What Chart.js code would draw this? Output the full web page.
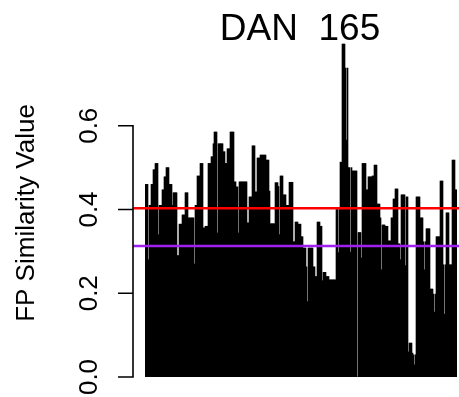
<!DOCTYPE html>
<html>
<head>
<meta charset="utf-8">
<script src="https://cdn.jsdelivr.net/npm/chart.js@4/dist/chart.umd.min.js"></script>
<style>
  html, body { margin: 0; padding: 0; background: #ffffff; }
  #wrap { width: 459px; height: 397px; position: relative; }
</style>
</head>
<body>
<div id="wrap"><canvas id="c" width="459" height="397"></canvas></div>
<script>
// ---- data ----
const chartTitle = "DAN  165";
const yAxisTitle = "FP Similarity Value";
const yTickValues = [0, 0.2, 0.4, 0.6];
const yTickLabels = ["0.0", "0.2", "0.4", "0.6"];
const redLineValue = 0.403;
const purpleLineValue = 0.313;
const fpValues = [
  0.46,0.46,0.46,0.28,0.41,0.41,0.46,0.46,0.495,0.495,0.51,0.51,0.51,0.34,0.41,0.41,0.41,0.447,0.447,0.478,0.478,0.5,0.5,0.5,
  0.46,0.46,0.46,0.41,0.44,0.44,0.44,0.44,0.29,0.29,0.365,0.365,0.365,0.387,0.387,0.387,0.44,0.44,0.44,0.38,0.38,0.38,0.38,0.38,0.38,0.27,0.41,0.41,
  0.48,0.48,0.48,0.51,0.51,0.51,0.356,0.356,0.36,0.36,0.36,0.51,0.51,0.51,0.526,0.526,0.557,0.585,0.585,0.585,0.344,0.557,0.557,0.557,0.557,0.557,0.538,0.538,0.51,0.51,0.545,0.545,0.545,
  0.585,0.585,0.585,0.585,0.466,0.466,0.454,0.454,0.344,0.466,0.466,0.466,0.466,0.466,0.466,0.466,0.466,0.368,0.368,0.43,0.43,0.43,0.552,0.552,0.552,0.442,0.442,0.523,0.523,0.523,
  0.53,0.53,0.53,0.53,0.53,0.53,0.518,0.518,0.518,0.444,0.366,0.366,0.366,0.366,0.366,0.464,0.464,0.464,0.455,0.34,0.48,0.48,0.48,0.435,0.435,0.435,0.41,0.41,0.41,0.465,0.465,0.465,0.465,
  0.323,0.323,0.37,0.37,0.37,0.365,0.365,0.365,0.335,0.335,0.308,0.308,0.308,0.263,0.18,0.308,0.308,0.308,0.308,0.308,0.263,0.263,0.24,0.24,0.37,0.37,0.37,0.36,0.36,0.23,0.25,0.25,0.25,
  0.24,0.24,0.24,0.232,0.232,0.232,0.232,0.232,0.232,0.232,0.4,0.4,0.297,0.4,0.513,0.513,0.795,0.795,0.795,0.738,0.566,0.738,0.5,0.5,0.298,0.5,0.492,0.492,0.492,0.492,0.492,0,
  0.345,0.345,0.345,0.284,0.51,0.51,0.51,0.51,0.447,0.447,0.478,0.478,0.478,0.478,0.48,0.48,0.506,0.506,0.506,0.413,0.413,0.413,0.38,0.256,0.363,0.363,0.363,0.36,0.36,0.36,0.325,0.325,0.325,0.38,0.38,
  0.425,0.425,0.449,0.449,0.449,0.318,0.318,0.28,0.435,0.435,0.435,0.435,0.266,0.43,0.43,0.06,0.081,0.081,0.081,0.057,0.053,0.029,0.053,0.43,0.43,0.43,0.43,0.38,0.38,0.38,0.323,0.256,0.323,
  0.354,0.354,0.354,0.354,0.21,0.21,0.21,0.198,0.155,0.198,0.335,0.335,0.335,0.335,0.468,0.468,0.468,0.268,0.15,0.268,0.392,0.392,0.392,0.268,0.268,0.268,0.518,0.518,0.518,0.447,0.447
];
const categories = fpValues.map((_, i) => String(i + 1));

// ---- R-style decorations drawn through the chart's own scales ----
const FONT = '"Liberation Sans", Arial, Helvetica, sans-serif';
const rDecor = {
  id: 'rDecor',
  afterDatasetsDraw(chart) {
    const ctx = chart.ctx;
    const y = chart.scales.y;
    const area = chart.chartArea;
    const axisX = 133;
    ctx.save();
    // reference lines (abline)
    [[redLineValue, '#FF0000'], [purpleLineValue, '#A020F0']].forEach(([v, col]) => {
      const py = y.getPixelForValue(v);
      ctx.strokeStyle = col;
      ctx.lineWidth = 2.6;
      ctx.beginPath();
      ctx.moveTo(axisX, py);
      ctx.lineTo(chart.width, py);
      ctx.stroke();
    });
    // y axis line + ticks
    ctx.strokeStyle = '#000000';
    ctx.lineWidth = 1.6;
    ctx.lineCap = 'butt';
    const y0 = y.getPixelForValue(yTickValues[0]);
    const y1 = y.getPixelForValue(yTickValues[yTickValues.length - 1]);
    ctx.beginPath();
    ctx.moveTo(axisX, y0 + 0.8);
    ctx.lineTo(axisX, y1 - 0.8);
    yTickValues.forEach(v => {
      const py = y.getPixelForValue(v);
      ctx.moveTo(axisX, py);
      ctx.lineTo(axisX - 15, py);
    });
    ctx.stroke();
    // tick labels, rotated like R's las=0
    ctx.fillStyle = '#000000';
    ctx.font = '26px ' + FONT;
    ctx.textAlign = 'center';
    ctx.textBaseline = 'alphabetic';
    yTickValues.forEach((v, i) => {
      const py = y.getPixelForValue(v);
      ctx.save();
      ctx.translate(97, py);
      ctx.rotate(-Math.PI / 2);
      ctx.fillText(yTickLabels[i], 0, 0);
      ctx.restore();
    });
    // y axis title
    ctx.save();
    ctx.translate(33.5, 213);
    ctx.rotate(-Math.PI / 2);
    ctx.fillText(yAxisTitle, 0, 0);
    ctx.restore();
    // main title
    ctx.font = '37px ' + FONT;
    ctx.fillText(chartTitle, 300, 40);
    ctx.restore();
  }
};

new Chart(document.getElementById('c'), {
  type: 'bar',
  data: {
    labels: categories,
    datasets: [{
      data: fpValues,
      backgroundColor: '#000000',
      borderWidth: 0,
      barPercentage: 1,
      categoryPercentage: 1
    }]
  },
  options: {
    responsive: false,
    devicePixelRatio: 1,
    animation: false,
    events: [],
    layout: { padding: { left: 145, right: 2, top: 42, bottom: 20 } },
    plugins: { legend: { display: false }, tooltip: { enabled: false }, title: { display: false } },
    scales: {
      x: { type: 'category', display: false, offset: true, grid: { display: false } },
      y: { display: false, min: 0, max: 0.8, grid: { display: false } }
    }
  },
  plugins: [rDecor]
});
</script>
</body>
</html>
